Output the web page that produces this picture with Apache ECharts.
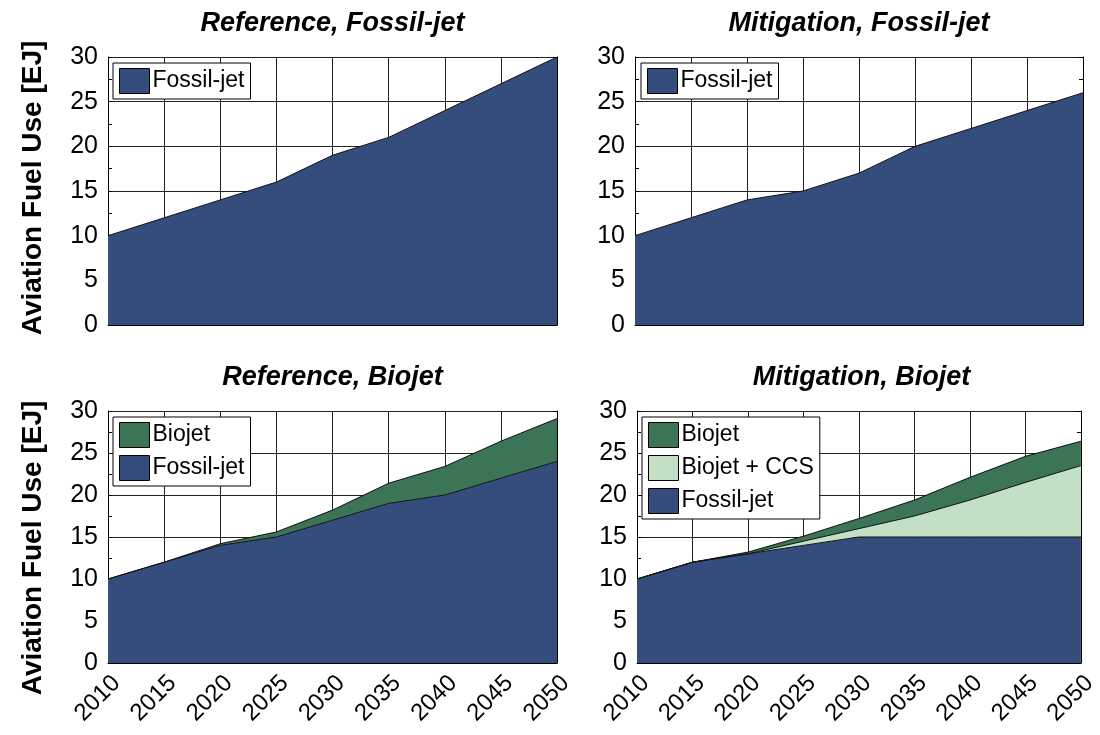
<!DOCTYPE html>
<html>
<head>
<meta charset="utf-8">
<script src="https://cdn.jsdelivr.net/npm/echarts@6/dist/echarts.min.js"></script>
<style>
  html, body { margin: 0; padding: 0; background: #fff; }
  #main { width: 1100px; height: 735px; }
</style>
</head>
<body>
<div id="main"></div>
<script>
// x categories
const years = ["2010", "2015", "2020", "2025", "2030", "2035", "2040", "2045", "2050"];

// Reference, Fossil-jet
const refFossil = [10, 12, 14, 16, 19, 21, 24, 27, 30];
// Mitigation, Fossil-jet
const mitFossil = [10, 12, 14, 15, 17, 20, 22, 24, 26];
// Reference, Biojet
const refBioFossil = [10, 12, 14, 15, 17, 19, 20, 22, 24];
const refBiojet = [0, 0, 0.2, 0.6, 1.2, 2.4, 3.4, 4.4, 5.1];
// Mitigation, Biojet
const mitBioFossil = [10, 12, 13, 14, 15, 15, 15, 15, 15];
const mitCcs = [0, 0, 0, 0.5, 1.0, 2.5, 4.4, 6.5, 8.5];
const mitBiojet = [0, 0, 0.2, 0.6, 1.2, 1.9, 2.7, 3.1, 2.9];

const panelTitles = ["Reference, Fossil-jet", "Mitigation, Fossil-jet", "Reference, Biojet", "Mitigation, Biojet"];
const yName = "Aviation Fuel Use [EJ]";

const FONT = '"Liberation Sans", Arial, sans-serif';
const C_FOSSIL = "#354d7c";
const C_BIO = "#3c7556";
const C_CCS = "#c3dfc6";

const grids = [
  { left: 108, top: 57, width: 449, height: 268 },
  { left: 635, top: 57, width: 448, height: 268 },
  { left: 108, top: 411, width: 449, height: 252 },
  { left: 637, top: 411, width: 449, height: 252 },
];

const chart = echarts.init(document.getElementById("main"));

// x axes
const xAxes = grids.map((g, i) => ({
  type: "category",
  gridIndex: i,
  data: years,
  boundaryGap: false,
  axisLine: { show: true, lineStyle: { color: "#000", width: 1 } },
  axisTick: { show: false },
  axisLabel: {
    show: i >= 2,
    rotate: 45,
    fontSize: 24,
    fontFamily: FONT,
    color: "#000",
    margin: 8,
    interval: 0,
    verticalAlign: "top",
  },
  splitLine: { show: true, lineStyle: { color: "#222", width: 1 } },
}));

// y axes: left with labels, right only ticks
const yAxes = [];
grids.forEach((g, i) => {
  yAxes.push({
    type: "value",
    gridIndex: i,
    min: 0,
    max: 30,
    interval: 5,
    axisLine: { show: true, lineStyle: { color: "#000", width: 1 } },
    axisTick: { show: true, inside: true, length: 4, lineStyle: { color: "#000" } },
    minorTick: { show: true, splitNumber: 2, length: 4, lineStyle: { color: "#000" } },
    axisLabel: { fontSize: 25, fontFamily: FONT, color: "#000", margin: 10 },
    splitLine: { show: true, lineStyle: { color: "#222", width: 1 } },
  });
  yAxes.push({
    type: "value",
    gridIndex: i,
    position: "right",
    min: 0,
    max: 30,
    interval: 5,
    axisLine: { show: true, lineStyle: { color: "#000", width: 1 } },
    axisTick: { show: true, inside: true, length: 4, lineStyle: { color: "#000" } },
    minorTick: { show: true, splitNumber: 2, length: 4, lineStyle: { color: "#000" } },
    axisLabel: { show: false },
    splitLine: { show: false },
  });
});

function area(name, data, color, grid, stack) {
  return {
    name: name,
    type: "line",
    xAxisIndex: grid,
    yAxisIndex: grid * 2,
    stack: stack,
    data: data,
    showSymbol: false,
    symbol: "none",
    color: color,
    lineStyle: { color: "#111", width: 1 },
    areaStyle: { color: color, opacity: 1 },
    itemStyle: { color: color },
    emphasis: { disabled: true },
    silent: true,
    z: 3,
  };
}

const series = [
  area("Fossil-jet", refFossil, C_FOSSIL, 0, "a"),
  area("Fossil-jet", mitFossil, C_FOSSIL, 1, "b"),
  area("Fossil-jet", refBioFossil, C_FOSSIL, 2, "c"),
  area("Biojet", refBiojet, C_BIO, 2, "c"),
  area("Fossil-jet", mitBioFossil, C_FOSSIL, 3, "d"),
  area("Biojet + CCS", mitCcs, C_CCS, 3, "d"),
  area("Biojet", mitBiojet, C_BIO, 3, "d"),
];

function legend(left, top, names) {
  return {
    left: left,
    top: top,
    orient: "vertical",
    data: names,
    icon: "rect",
    itemWidth: 30,
    itemHeight: 25,
    itemGap: 7,
    padding: [5, 6, 5, 6],
    backgroundColor: "#fff",
    borderColor: "#000",
    borderWidth: 1,
    borderRadius: 0,
    selectedMode: false,
    itemStyle: { borderColor: "#000", borderWidth: 1 },
    textStyle: { fontSize: 23, fontFamily: FONT, color: "#000", padding: [0, 0, 0, -2] },
    z: 10,
  };
}

const titleGraphics = panelTitles.map((t, i) => ({
  type: "text",
  x: grids[i].left + grids[i].width / 2,
  y: i < 2 ? 24 : 378,
  style: {
    text: t,
    font: 'italic bold 27px "Liberation Sans", Arial, sans-serif',
    fill: "#000",
    textAlign: "center",
    textVerticalAlign: "middle",
    align: "center",
    verticalAlign: "middle",
  },
}));

const nameGraphics = [188, 548].map((y) => ({
  type: "text",
  x: 33,
  y: y,
  rotation: Math.PI / 2,
  style: {
    text: yName,
    font: 'bold 28px "Liberation Sans", Arial, sans-serif',
    fill: "#000",
    textAlign: "center",
    textVerticalAlign: "middle",
    align: "center",
    verticalAlign: "middle",
  },
}));

chart.setOption({
  animation: false,
  backgroundColor: "#fff",
  grid: grids.map((g) => Object.assign({ show: false, containLabel: false }, g)),
  xAxis: xAxes,
  yAxis: yAxes,
  series: series,
  legend: [
    legend(113, 63, ["Fossil-jet"]),
    legend(641, 63, ["Fossil-jet"]),
    legend(113, 417, ["Biojet", "Fossil-jet"]),
    legend(642, 417, ["Biojet", "Biojet + CCS", "Fossil-jet"]),
  ],
  graphic: titleGraphics.concat(nameGraphics),
});
</script>
</body>
</html>
